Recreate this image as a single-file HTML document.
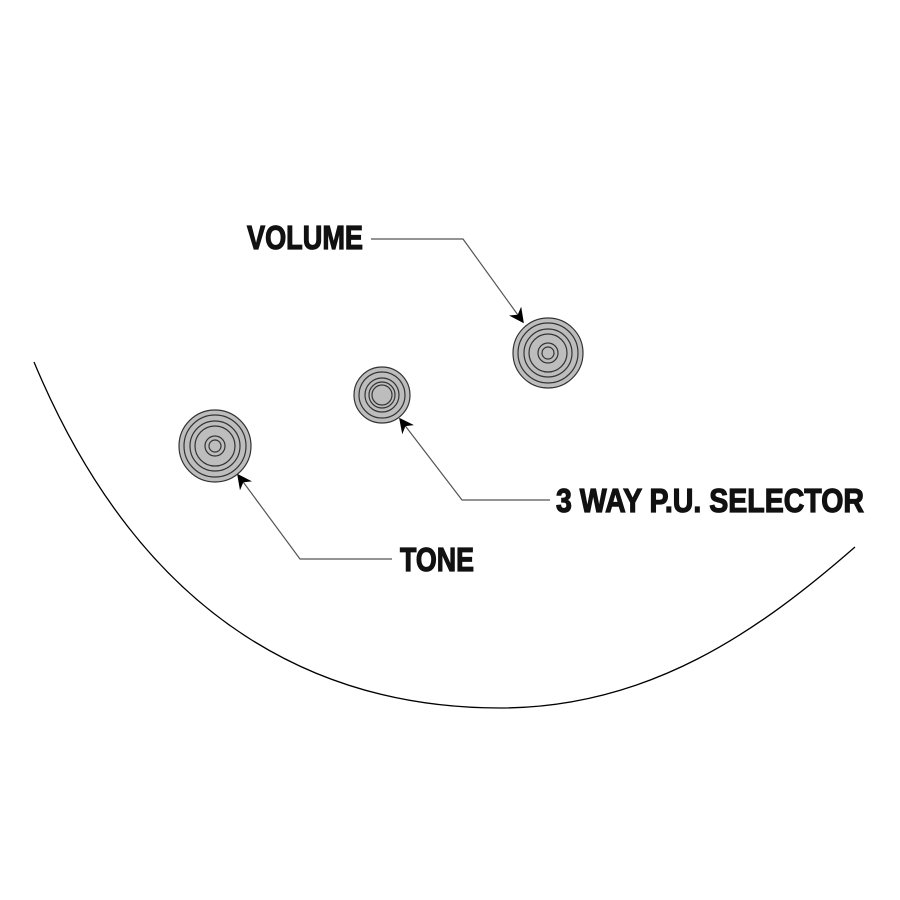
<!DOCTYPE html>
<html><head><meta charset="utf-8"><style>
html,body{margin:0;padding:0;background:#fff;}
svg{display:block}
text{font-family:"Liberation Sans Narrow","Liberation Sans",sans-serif;font-weight:bold;fill:#111;stroke:#111;stroke-width:1.2;}
</style></head><body>
<svg width="900" height="900" viewBox="0 0 900 900">
<defs>
<marker id="a" viewBox="0 0 10 10" refX="9" refY="5" markerWidth="15" markerHeight="15" markerUnits="userSpaceOnUse" orient="auto">
<path d="M0,0 L10,5 L0,10 L3,5 z" fill="#000"/></marker>
</defs>
<path d="M34,362 C150,640 340,708 500,708 C650,708 760,630 855,547" fill="none" stroke="#000" stroke-width="1.3"/>
<g fill="none" stroke="#555" stroke-width="1.2">
<polyline points="371,239 463,239 523,322" marker-end="url(#a)"/>
<polyline points="550,500 462,500 400,419" marker-end="url(#a)"/>
<polyline points="392,559 300,559 238,475" marker-end="url(#a)"/>
</g>
<g transform="translate(548,353)" fill="none" stroke="#333" stroke-width="1.2">
<circle r="35" fill="#bdbdbd"/>
<circle r="30"/><circle r="24"/><circle r="19"/><circle r="10"/><circle r="6"/>
</g>
<g transform="translate(382,395)" fill="none" stroke="#333" stroke-width="1.2">
<circle r="28" fill="#bdbdbd"/>
<circle r="23"/><circle r="17"/><circle r="13"/><circle r="10"/>
</g>
<g transform="translate(215,446)" fill="none" stroke="#333" stroke-width="1.2">
<circle r="36" fill="#bdbdbd"/>
<circle r="31"/><circle r="25"/><circle r="20"/><circle r="10"/><circle r="6"/>
</g>
<text x="247" y="249" font-size="33" textLength="116" lengthAdjust="spacingAndGlyphs">VOLUME</text>
<text x="556" y="512" font-size="33" textLength="308" lengthAdjust="spacingAndGlyphs">3 WAY P.U. SELECTOR</text>
<text x="400" y="571" font-size="33" textLength="74" lengthAdjust="spacingAndGlyphs">TONE</text>
</svg>
</body></html>
